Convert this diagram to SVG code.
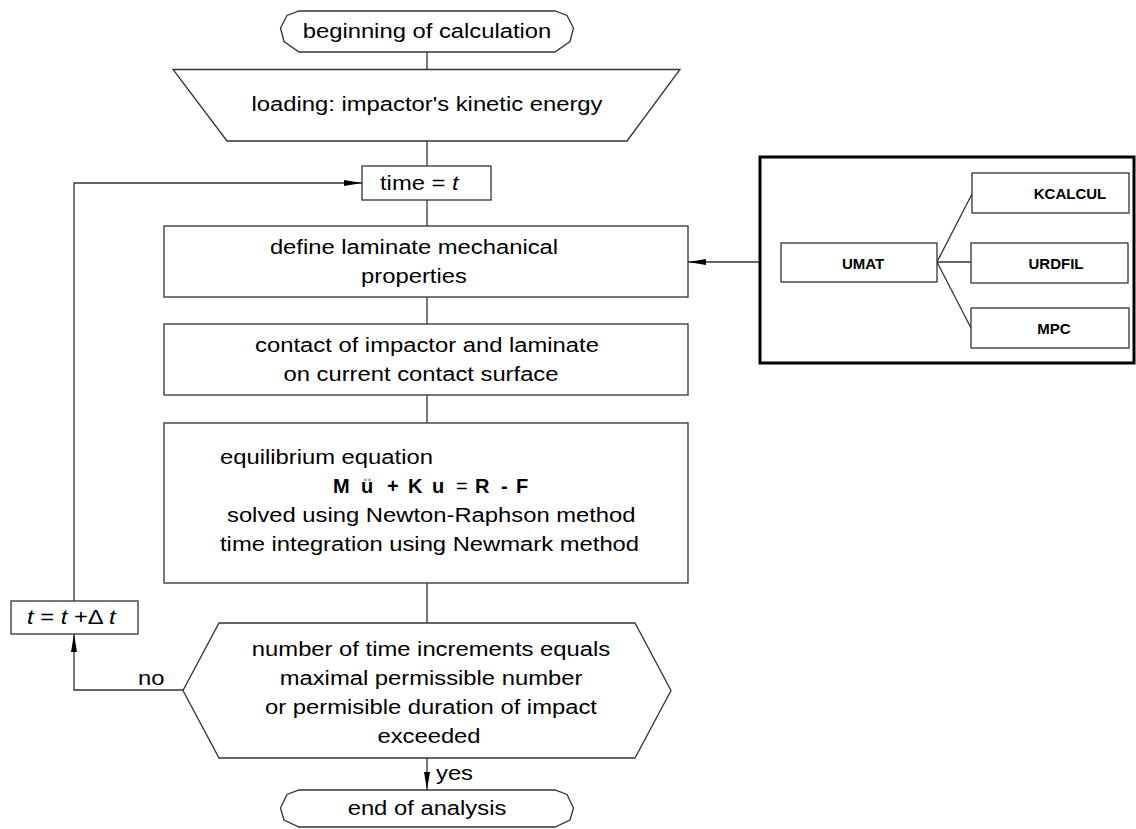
<svg xmlns="http://www.w3.org/2000/svg" width="1136" height="829" viewBox="0 0 1136 829">
<defs>
<style>
.s{fill:#fff;stroke:#333;stroke-width:1.3}
.c{fill:none;stroke:#333;stroke-width:1.3}
.t{font-family:"Liberation Sans",Arial,sans-serif;font-size:20px;fill:#000}
.m{text-anchor:middle}
.b{font-family:"Liberation Sans",Arial,sans-serif;font-size:15px;font-weight:bold;fill:#000;text-anchor:middle}
.e{font-family:"Liberation Sans",Arial,sans-serif;font-size:20px;font-weight:bold;fill:#000}
.i{font-style:italic}
</style>
<marker id="ah" markerUnits="userSpaceOnUse" markerWidth="19" markerHeight="7" refX="18" refY="3" orient="auto">
<path d="M0,0 L18,3 L0,6 Z" fill="#000"/>
</marker>
</defs>
<rect width="1136" height="829" fill="#fff"/>

<g id="subroutines">
<rect x="760" y="157" width="374" height="206" fill="#fff" stroke="#000" stroke-width="3"/>
</g>

<g id="connectors">
<line class="c" x1="427" y1="52" x2="427" y2="69.5"/>
<line class="c" x1="427" y1="141" x2="427" y2="166"/>
<line class="c" x1="427" y1="200" x2="427" y2="226"/>
<line class="c" x1="427" y1="297" x2="427" y2="324"/>
<line class="c" x1="427" y1="395" x2="427" y2="423"/>
<line class="c" x1="427" y1="583" x2="427" y2="623"/>
<line class="c" x1="427" y1="758" x2="427" y2="790" marker-end="url(#ah)"/>
<polyline class="c" points="183,690 74,690 74,634" marker-end="url(#ah)"/>
<polyline class="c" points="74,601 74,183 362,183" marker-end="url(#ah)"/>
<line class="c" x1="759" y1="262" x2="688" y2="262" marker-end="url(#ah)"/>
<line class="c" x1="937" y1="262" x2="972" y2="194"/>
<line class="c" x1="937" y1="262" x2="971" y2="262"/>
<line class="c" x1="937" y1="262" x2="971" y2="328"/>
<text class="t" transform="translate(138,685) scale(1.19,1)">no</text>
<text class="t" transform="translate(436,780) scale(1.19,1)">yes</text>
</g>

<g id="start">
<path class="s" d="M299,11 H555 L567,15.5 L573.5,28 L570,41.5 L555,52 H299 L284,41.5 L280.5,28 L287,15.5 Z"/>
<text class="t m" transform="translate(427,37.5) scale(1.19,1)">beginning of calculation</text>
</g>

<g id="loading">
<polygon class="s" points="173,69.5 680,69.5 627,141 227,141"/>
<text class="t m" transform="translate(427,111) scale(1.19,1)">loading: impactor's kinetic energy</text>
</g>

<g id="time">
<rect class="s" x="362" y="166" width="129" height="34"/>
<text class="t" transform="translate(380,190) scale(1.19,1)">time = <tspan class="i">t</tspan></text>
</g>

<g id="define">
<rect class="s" x="164" y="226" width="524" height="71"/>
<text class="t m" transform="translate(414,254) scale(1.19,1)">define laminate mechanical</text>
<text class="t m" transform="translate(414,283) scale(1.19,1)">properties</text>
</g>

<g id="contact">
<rect class="s" x="164" y="324" width="524" height="71"/>
<text class="t m" transform="translate(427,352) scale(1.19,1)">contact of impactor and laminate</text>
<text class="t m" transform="translate(421,381) scale(1.19,1)">on current contact surface</text>
</g>

<g id="equilibrium">
<rect class="s" x="164" y="423" width="524" height="160"/>
<text class="t" transform="translate(220,464) scale(1.19,1)">equilibrium equation</text>
<text class="e" y="493"><tspan x="333">M</tspan><tspan x="361">u</tspan><tspan x="387">+</tspan><tspan x="408">K</tspan><tspan x="432">u</tspan><tspan x="456" font-weight="normal">=</tspan><tspan x="475">R</tspan><tspan x="501">-</tspan><tspan x="516">F</tspan></text>
<text class="e" x="364" y="493" style="fill:#22dd22">¨</text>
<text class="t" transform="translate(227,522) scale(1.19,1)">solved using Newton-Raphson method</text>
<text class="t" transform="translate(220,551) scale(1.19,1)">time integration using Newmark method</text>
</g>

<g id="check">
<polygon class="s" points="219,623 635,623 671,690.5 635,758 219,758 183,690.5"/>
<text class="t m" transform="translate(431,656) scale(1.19,1)">number of time increments equals</text>
<text class="t m" transform="translate(431,685) scale(1.19,1)">maximal permissible number</text>
<text class="t m" transform="translate(431,714) scale(1.19,1)">or permisible duration of impact</text>
<text class="t m" transform="translate(429,743) scale(1.19,1)">exceeded</text>
</g>

<g id="increment">
<rect class="s" x="11" y="601" width="127" height="33"/>
<text class="t" transform="translate(27,624) scale(1.19,1)"><tspan class="i">t</tspan> = <tspan class="i">t</tspan> +Δ <tspan class="i">t</tspan></text>
</g>

<g id="end">
<path class="s" d="M299,790 H555 L567,794.5 L573.5,808 L570,820 L555,827 H299 L284,820 L280.5,808 L287,794.5 Z"/>
<text class="t m" transform="translate(427,815) scale(1.19,1)">end of analysis</text>
</g>

<g id="umat">
<rect class="s" x="781" y="243" width="156" height="39"/>
<text class="b" x="863" y="269">UMAT</text>
</g>
<g id="kcalcul">
<rect class="s" x="972" y="173" width="157" height="40"/>
<text class="b" x="1070" y="199">KCALCUL</text>
</g>
<g id="urdfil">
<rect class="s" x="971" y="243" width="157" height="40"/>
<text class="b" x="1056" y="269">URDFIL</text>
</g>
<g id="mpc">
<rect class="s" x="971" y="308" width="158" height="40"/>
<text class="b" x="1054" y="334">MPC</text>
</g>
</svg>
